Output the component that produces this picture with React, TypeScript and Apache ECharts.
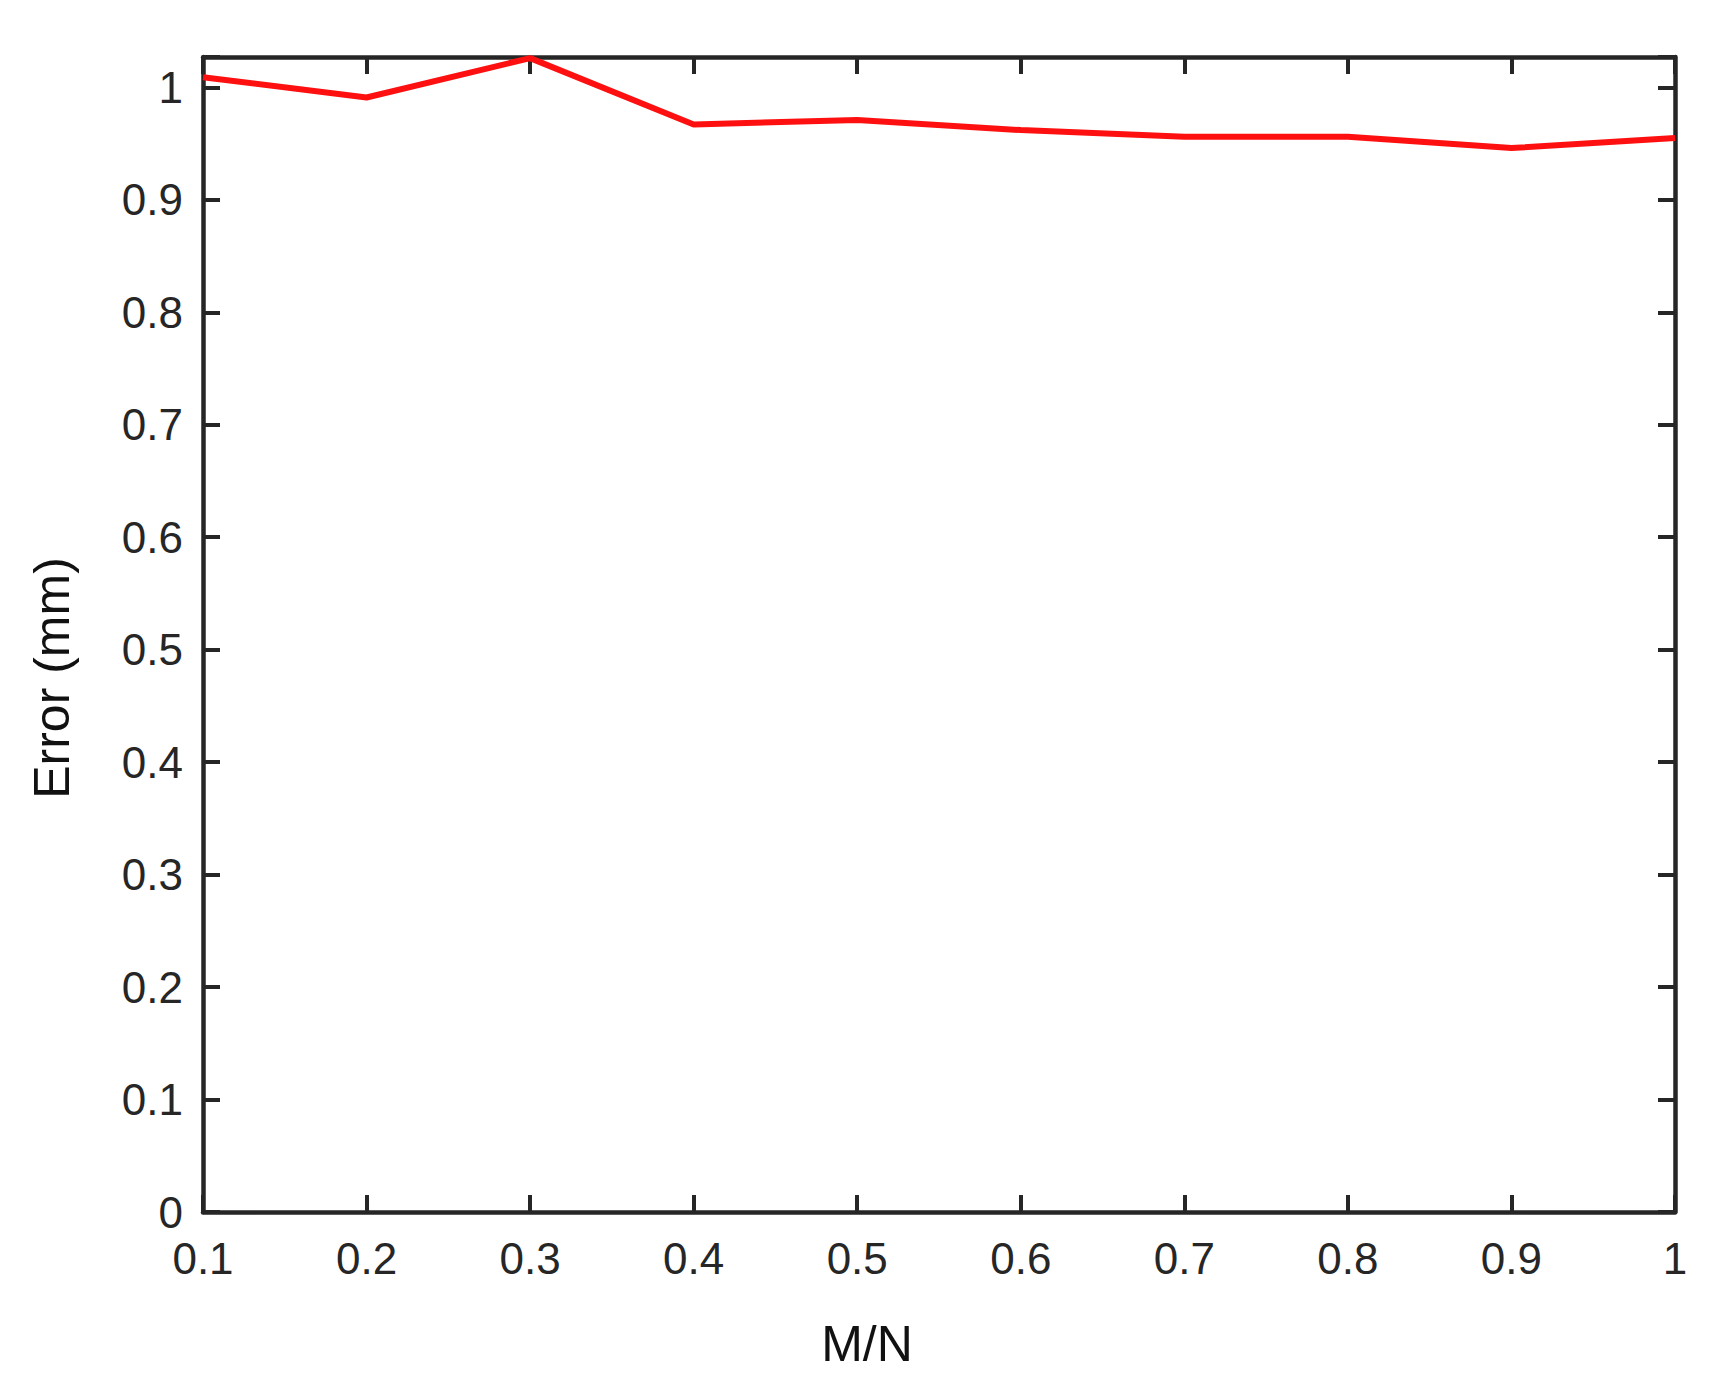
import React, { useEffect, useRef } from "react";
import * as echarts from "echarts";

const ratios = [0.1, 0.2, 0.3, 0.4, 0.5, 0.6, 0.7, 0.8, 0.9, 1.0];
const errors = [1.009, 0.991, 1.026, 0.967, 0.971, 0.962, 0.956, 0.956, 0.946, 0.955];
const xTitle = "M/N";
const yTitle = "Error (mm)";

const fmt = (v: number) => {
  if (Math.abs(v * 10 - Math.round(v * 10)) > 1e-6) return "";
  return String(Math.round(v * 10) / 10);
};

export default function App() {
  const ref = useRef<HTMLDivElement>(null);
  useEffect(() => {
    document.body.style.margin = "0";
    const chart = echarts.init(ref.current!, null, { renderer: "svg" });
    const axisColor = "#262626";
    const font = "'Liberation Sans', Arial, Helvetica, sans-serif";
    const baseAxis = {
      axisLine: { show: true, onZero: false, lineStyle: { color: axisColor, width: 4.5 } },
      axisTick: { show: true, inside: true, length: 17, lineStyle: { color: axisColor, width: 4 } },
      splitLine: { show: false },
    };
    chart.setOption({
      animation: false,
      backgroundColor: "#ffffff",
      grid: { left: 203, right: 37, top: 57, bottom: 177, containLabel: false },
      xAxis: [
        {
          type: "value",
          min: 0.1,
          max: 1,
          interval: 0.1,
          ...baseAxis,
          axisLabel: { color: axisColor, fontSize: 44, fontFamily: font, margin: 24, formatter: fmt },
        },
        {
          type: "value",
          position: "top",
          min: 0.1,
          max: 1,
          interval: 0.1,
          ...baseAxis,
          axisLabel: { show: false },
        },
      ],
      yAxis: [
        {
          type: "value",
          min: 0,
          max: 1.027,
          interval: 0.1,
          ...baseAxis,
          axisLabel: { color: axisColor, fontSize: 44, fontFamily: font, margin: 20, formatter: fmt },
        },
        {
          type: "value",
          position: "right",
          min: 0,
          max: 1.027,
          interval: 0.1,
          ...baseAxis,
          axisLabel: { show: false },
        },
      ],
      series: [
        {
          type: "line",
          data: ratios.map((r, i) => [r, errors[i]]),
          showSymbol: false,
          lineStyle: { color: "#ff1010", width: 6 },
          itemStyle: { color: "#ff1010" },
          clip: false,
        },
      ],
      graphic: [
        {
          type: "text",
          x: 867,
          y: 1344,
          style: {
            text: xTitle,
            fill: "#111111",
            font: `50px ${font}`,
            textAlign: "center",
            textVerticalAlign: "middle",
          },
        },
        {
          type: "text",
          x: 52,
          y: 678,
          rotation: Math.PI / 2,
          style: {
            text: yTitle,
            fill: "#111111",
            font: `50px ${font}`,
            textAlign: "center",
            textVerticalAlign: "middle",
          },
        },
      ],
    });
    return () => chart.dispose();
  }, []);
  return <div ref={ref} style={{ width: 1712, height: 1389 }} />;
}
